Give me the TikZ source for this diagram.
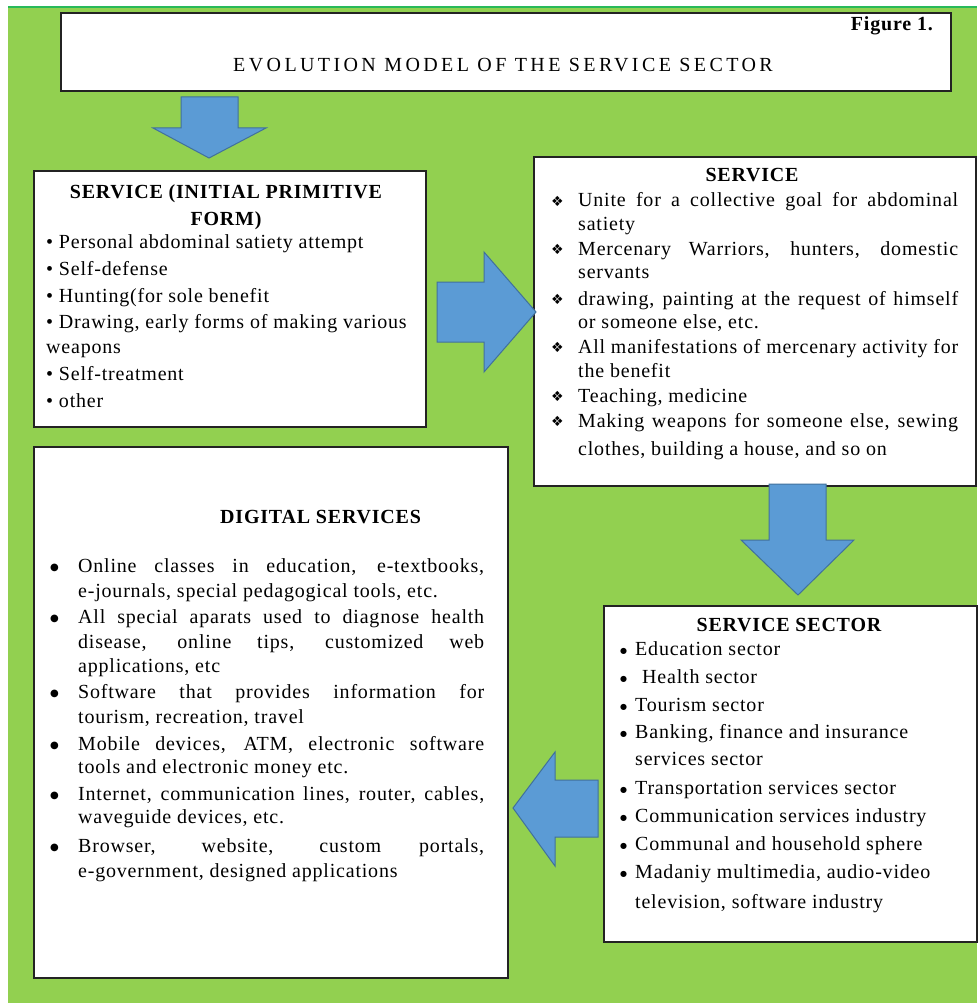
\documentclass[tikz,border=0pt]{standalone}
\usepackage{fontspec}
\usepackage{graphicx}
\setmainfont{Liberation Serif}
\newfontfamily\bodyf{Liberation Serif}[LetterSpace=4]
\newfontfamily\titlef{Liberation Serif}[LetterSpace=17]
\newfontfamily\symf{DejaVu Sans}
\definecolor{bg}{RGB}{146,208,80}
\definecolor{topc}{RGB}{40,185,90}
\definecolor{boxc}{RGB}{35,35,35}
\definecolor{arrf}{RGB}{91,155,213}
\definecolor{arrd}{RGB}{65,113,156}
\newlength\jlen
\newcommand\jline[2]{\settowidth\jlen{#2}\ifdim\jlen>#1\relax\resizebox{#1}{\height}{#2}\else\makebox[#1][s]{#2}\fi}
\begin{document}
\begin{tikzpicture}[x=1pt,y=-1pt,
  box/.style={draw=boxc, line width=2pt, fill=white, inner sep=0pt, anchor=north west},
  blockarrow/.style={fill=arrf, draw=arrd, line width=1pt, line join=miter},
  tx/.style={font=\bodyf\fontsize{20}{22}\selectfont, anchor=base west, inner sep=0pt},
  hd/.style={font=\bodyf\bfseries\fontsize{20}{22}\selectfont, anchor=base, inner sep=0pt},
  bul/.style={font=\symf\fontsize{10}{12}\selectfont, anchor=base west, inner sep=0pt},
  dia/.style={font=\symf\fontsize{14}{16}\selectfont, anchor=base west, inner sep=0pt}]
\useasboundingbox (0,0) rectangle (977,1003);
\fill[white] (0,0) rectangle (977,1003);
\fill[bg] (8,7) rectangle (977,1003);
\draw[topc, line width=2pt] (8,7) -- (977,7);
% boxes
\node[box, minimum width=890pt, minimum height=78pt] (title) at (60,12) {};
\node[box, minimum width=392pt, minimum height=256pt] (prim) at (33,170) {};
\node[box, minimum width=442pt, minimum height=329pt] (serv) at (533,156) {};
\node[box, minimum width=474pt, minimum height=531pt] (digi) at (33,446) {};
\node[box, minimum width=373pt, minimum height=336pt] (sect) at (603,605) {};
% arrows
\draw[blockarrow] (181,97) -- (238,97) -- (238,128) -- (266,128) -- (209,158) -- (153,128) -- (181,128) -- cycle;
\draw[blockarrow] (437,282) -- (484,282) -- (484,252) -- (536,312) -- (484,372) -- (484,342) -- (437,342) -- cycle;
\draw[blockarrow] (769,484) -- (826,484) -- (826,540) -- (854,540) -- (798,595) -- (741,540) -- (769,540) -- cycle;
\draw[blockarrow] (598,780) -- (555,780) -- (555,752) -- (513,808) -- (555,866) -- (555,837) -- (598,837) -- cycle;
% title
\node[font=\bodyf\bfseries\fontsize{20}{22}\selectfont, anchor=base east, inner sep=0pt] (fig) at (933,31) {Figure 1.};
\node[font=\titlef\fontsize{20}{22}\selectfont, anchor=base, inner sep=0pt] (ttl) at (503,72) {EVOLUTION MODEL OF THE SERVICE SECTOR};
% primitive
\node[hd] (p0a) at (226,198) {SERVICE (INITIAL PRIMITIVE};
\node[hd] (p0b) at (226,225) {FORM)};
\node[tx] (p1) at (46,248) {• Personal abdominal satiety attempt};
\node[tx] (p2) at (46,275) {• Self-defense};
\node[tx] (p3) at (46,302) {• Hunting(for sole benefit};
\node[tx] (p4) at (46,328) {• Drawing, early forms of making various};
\node[tx] (p5) at (46,353) {weapons};
\node[tx] (p6) at (46,380) {• Self-treatment};
\node[tx] (p7) at (46,407) {• other};
% service
\node[hd] (s0) at (752,182) {SERVICE};
\foreach \yy [count=\i] in {207,255,305,353,402,427}
  \node[dia] (sd\i) at (551,\yy-1) {❖};
\node[tx] (s1) at (578,207) {\jline{380pt}{Unite for a collective goal for abdominal}};
\node[tx] (s2) at (578,230) {satiety};
\node[tx] (s3) at (578,255) {\jline{380pt}{Mercenary Warriors, hunters, domestic}};
\node[tx] (s4) at (578,278) {servants};
\node[tx] (s5) at (578,305) {\jline{380pt}{drawing, painting at the request of himself}};
\node[tx] (s6) at (578,328) {or someone else, etc.};
\node[tx] (s7) at (578,353) {\jline{380pt}{All manifestations of mercenary activity for}};
\node[tx] (s8) at (578,377) {the benefit};
\node[tx] (s9) at (578,402) {Teaching, medicine};
\node[tx] (s10) at (578,427) {\jline{380pt}{Making weapons for someone else, sewing}};
\node[tx] (s11) at (578,455) {clothes, building a house, and so on};
% digital
\node[hd, anchor=base west] (d0) at (220,523) {DIGITAL SERVICES};
\foreach \yy [count=\i] in {572,623,698,750,800,852}
  \node[bul] (db\i) at (50,\yy-2) {●};
\node[tx] (d1) at (78,572) {\jline{406pt}{Online classes in education, e-textbooks,}};
\node[tx] (d2) at (78,597) {e-journals, special pedagogical tools, etc.};
\node[tx] (d3) at (78,623) {\jline{406pt}{All special aparats used to diagnose health}};
\node[tx] (d4) at (78,648) {\jline{406pt}{disease, online tips, customized web}};
\node[tx] (d5) at (78,672) {applications, etc};
\node[tx] (d6) at (78,698) {\jline{406pt}{Software that provides information for}};
\node[tx] (d7) at (78,723) {tourism, recreation, travel};
\node[tx] (d8) at (78,750) {\jline{406pt}{Mobile devices, ATM, electronic software}};
\node[tx] (d9) at (78,773) {tools and electronic money etc.};
\node[tx] (d10) at (78,800) {\jline{406pt}{Internet, communication lines, router, cables,}};
\node[tx] (d11) at (78,823) {waveguide devices, etc.};
\node[tx] (d12) at (78,852) {\jline{406pt}{Browser, website, custom portals,}};
\node[tx] (d13) at (78,877) {e-government, designed applications};
% sector
\node[hd] (c0) at (789,631) {SERVICE SECTOR};
\foreach \yy [count=\i] in {655,683,711,738,794,822,850,878}
  \node[bul, font=\symf\fontsize{8}{10}\selectfont] (cb\i) at (620,\yy-2) {●};
\node[tx] (c1) at (635,655) {Education sector};
\node[tx] (c2) at (642,683) {Health sector};
\node[tx] (c3) at (635,711) {Tourism sector};
\node[tx] (c4) at (635,738) {Banking, finance and insurance};
\node[tx] (c5) at (635,765) {services sector};
\node[tx] (c6) at (635,794) {Transportation services sector};
\node[tx] (c7) at (635,822) {Communication services industry};
\node[tx] (c8) at (635,850) {Communal and household sphere};
\node[tx] (c9) at (635,878) {Madaniy multimedia, audio-video};
\node[tx] (c10) at (635,908) {television, software industry};
\end{tikzpicture}
\end{document}
